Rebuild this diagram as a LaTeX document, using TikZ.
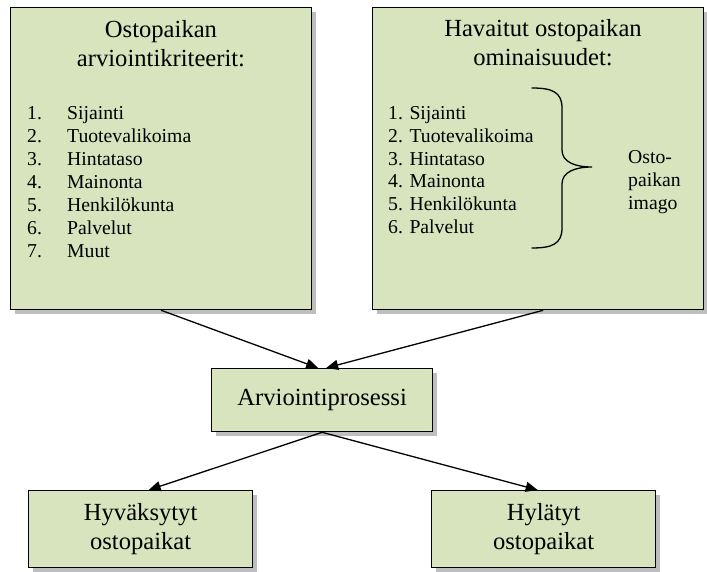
\documentclass[tikz,border=0pt]{standalone}
\usepackage{fontspec}
\setmainfont{Liberation Serif}
\usetikzlibrary{arrows.meta,shadows}

\definecolor{boxfill}{RGB}{215,228,189}
\definecolor{boxshade}{RGB}{190,190,190}

\begin{document}
\begin{tikzpicture}[x=1pt,y=-1pt,
  panel/.style={draw=black, line width=1.3pt, fill=boxfill, inner sep=0pt,
    anchor=north west, align=center, font=\titlefont,
    drop shadow={shadow xshift=4pt, shadow yshift=-4pt, fill=boxshade, opacity=1}},
  title/.style={anchor=base, align=center, inner sep=0pt, font=\titlefont},
  item/.style={anchor=base west, inner sep=0pt, font=\itemfont},
  flow/.style={line width=1.3pt, -{Triangle[length=12pt, width=10pt]}},
  brace/.style={line width=1.3pt, line cap=round}
]
\newcommand\titlefont{\fontsize{24.6}{29}\selectfont}
\newcommand\itemfont{\fontsize{19.7}{23}\selectfont}

\useasboundingbox (0,0) rectangle (707,572);

% upper panels
\node[panel, minimum width=301pt, minimum height=302pt] (crit) at (10,7) {};
\node[panel, minimum width=331pt, minimum height=302pt] (prop) at (372,7) {};

% middle and lower boxes
\node[panel, minimum width=221pt, minimum height=63pt] (proc) at (211,368) {Arviointiprosessi};
\node[panel, minimum width=224pt, minimum height=77pt] (acc) at (28,490) {Hyväksytyt\\ostopaikat};
\node[panel, minimum width=224pt, minimum height=77pt] (rej) at (431,490) {Hylätyt\\ostopaikat};

% panel headings (anchored on the baseline of their last line)
\node[title] (crit-title) at (161,67) {Ostopaikan\\arviointikriteerit:};
\node[title] (prop-title) at (543,66) {Havaitut ostopaikan\\ominaisuudet:};

% criteria list
\foreach \t [count=\i] in {Sijainti,Tuotevalikoima,Hintataso,Mainonta,Henkilökunta,Palvelut,Muut} {
  \node[item] (crit-num-\i) at (27,{120+23*(\i-1)}) {\i.};
  \node[item] (crit-item-\i) at (67,{120+23*(\i-1)}) {\t};
}

% observed properties list
\foreach \t [count=\i] in {Sijainti,Tuotevalikoima,Hintataso,Mainonta,Henkilökunta,Palvelut} {
  \node[item] (prop-item-\i) at (388,{120+22.6*(\i-1)}) {\i. \t};
}

% brace grouping the properties
\draw[brace] (532,88) .. controls (552,88) and (562,92) .. (562,108)
  -- (562,150) .. controls (562,162) and (575,167) .. (592,167)
  .. controls (575,167) and (562,172) .. (562,184)
  -- (562,228) .. controls (562,244) and (552,248) .. (532,248);
\node[item, align=left, anchor=north west] (image) at (628,150) {Osto-\\paikan\\imago};

% connectors
\draw[flow] (crit.south) -- ([xshift=-4pt]proc.north);
\draw[flow] ([xshift=5pt]prop.south) -- ([xshift=4pt]proc.north);
\draw[flow] (proc.south) -- ([xshift=8pt]acc.north);
\draw[flow] (proc.south) -- ([xshift=-6pt]rej.north);
\end{tikzpicture}
\end{document}
